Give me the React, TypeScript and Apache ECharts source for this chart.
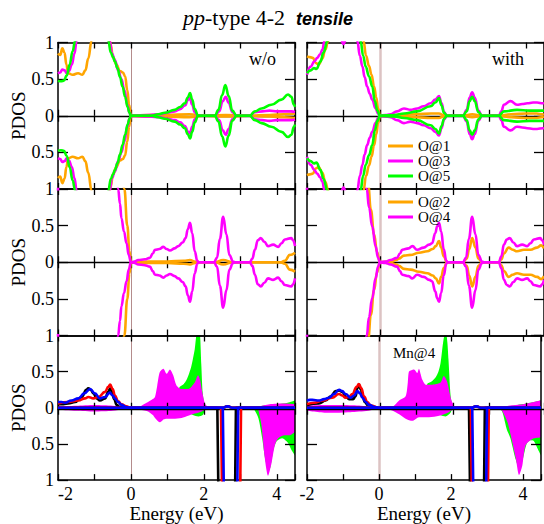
import React, { useEffect, useRef } from "react";
import * as echarts from "echarts";

type Pt = [number, number];

// ---------- style constants ----------
const ORANGE = "#ffa500";
const MAGENTA = "#ff00ff";
const GREEN = "#00ff00";
const RED = "#ff0000";
const BLUE = "#0000ff";
const BLACK = "#000000";
const SERIF = '"Liberation Serif", "DejaVu Serif", serif';
const SANS = '"Liberation Sans", Arial, sans-serif';

// ---------- title pieces ----------
const titleParts = [
  { text: "pp", font: `italic 22px ${SERIF}`, dy: 0 },
  { text: "-type 4-2  ", font: `22px ${SERIF}`, dy: 0 },
  { text: "tensile", font: `italic bold 18px ${SANS}`, dy: 1.5 },
];

// ---------- axes ----------
const energyMin = -2;
const energyMax = 4.5;
const energyLabels = [-2, 0, 2, 4];
const pdosMin = -1;
const pdosMax = 1;

// ---------- top row: O@1 / O@3 / O@5 (spin-up; spin-down is its mirror) ----------
const o1Wo: Pt[] = [[-2,0.85],[-1.94,0.83],[-1.88,0.92],[-1.82,0.86],[-1.77,0.7],[-1.72,0.58],[-1.6,0.56],[-1.45,0.58],[-1.33,0.56],[-1.25,0.62],[-1.17,0.78],[-1.08,1.02],[-1.0,1.3],[-0.8,1.6],[-0.62,1.2],[-0.56,0.98],[-0.49,0.8],[-0.4,0.7],[-0.3,0.61],[-0.22,0.59],[-0.16,0.54],[-0.1,0.35],[-0.05,0.15],[0,0],[0.5,0.01],[1.0,0.01],[1.6,0.02],[2.0,0],[2.6,0.01],[3.2,0],[3.8,0.01],[4.2,0.02],[4.5,0.03]];
const o3Wo: Pt[] = [[-2,0.58],[-1.94,0.59],[-1.88,0.63],[-1.82,0.62],[-1.76,0.58],[-1.7,0.61],[-1.62,0.7],[-1.55,0.85],[-1.49,1.02],[-1.4,1.3],[-1.0,1.8],[-0.7,1.4],[-0.58,1.02],[-0.52,0.85],[-0.44,0.76],[-0.35,0.62],[-0.26,0.5],[-0.18,0.35],[-0.1,0.15],[-0.04,0.04],[0,0],[0.5,0.01],[0.8,0.02],[1.0,0.04],[1.2,0.06],[1.35,0.09],[1.48,0.14],[1.57,0.22],[1.62,0.24],[1.68,0.15],[1.75,0.05],[1.84,0],[2.3,0],[2.42,0.06],[2.52,0.2],[2.6,0.26],[2.68,0.18],[2.78,0.05],[2.9,0],[3.26,0],[3.4,0.05],[3.6,0.06],[3.8,0.07],[4.0,0.06],[4.2,0.06],[4.4,0.06],[4.5,0.05]];
const o5Wo: Pt[] = [[-2,0.48],[-1.92,0.47],[-1.84,0.48],[-1.76,0.55],[-1.68,0.7],[-1.6,0.88],[-1.53,1.02],[-1.4,1.4],[-1.0,1.8],[-0.7,1.3],[-0.62,1.02],[-0.55,0.86],[-0.49,0.8],[-0.44,0.74],[-0.37,0.65],[-0.3,0.53],[-0.23,0.4],[-0.16,0.26],[-0.09,0.12],[-0.04,0.04],[0,0],[0.57,0],[0.75,0.02],[0.93,0.04],[1.2,0.08],[1.35,0.12],[1.48,0.17],[1.56,0.25],[1.62,0.31],[1.68,0.22],[1.75,0.09],[1.84,0],[2.3,0],[2.4,0.08],[2.5,0.28],[2.59,0.42],[2.68,0.27],[2.78,0.07],[2.9,0],[3.26,0],[3.4,0.06],[3.58,0.1],[3.85,0.15],[4.13,0.22],[4.31,0.29],[4.4,0.26],[4.47,0.15],[4.5,0.12]];

const o1With: Pt[] = [[-2,0.81],[-1.92,0.8],[-1.84,0.79],[-1.76,0.72],[-1.68,0.7],[-1.58,0.78],[-1.5,0.9],[-1.42,1.02],[-1.3,1.4],[-1.0,1.8],[-0.6,1.6],[-0.45,1.02],[-0.38,0.82],[-0.3,0.68],[-0.23,0.56],[-0.16,0.4],[-0.1,0.25],[-0.05,0.1],[0,0],[0.5,0.01],[1.0,0.02],[1.4,0.03],[1.62,0.03],[1.75,0.01],[1.84,0],[2.3,0],[2.53,0.02],[2.8,0],[3.26,0],[3.6,0.02],[4.0,0.03],[4.3,0.03],[4.45,0.02],[4.5,0.01]];
const o3With: Pt[] = [[-2,0.56],[-1.9,0.67],[-1.8,0.74],[-1.72,0.79],[-1.64,0.84],[-1.58,0.9],[-1.52,1.02],[-1.4,1.3],[-1.1,1.1],[-1.0,0.98],[-0.9,1.1],[-0.75,1.5],[-0.62,1.02],[-0.55,0.82],[-0.48,0.67],[-0.42,0.53],[-0.35,0.4],[-0.28,0.3],[-0.21,0.22],[-0.12,0.1],[-0.05,0.03],[0,0],[0.15,0.01],[0.29,0.02],[0.47,0.06],[0.66,0.1],[0.84,0.08],[1.02,0.1],[1.2,0.13],[1.39,0.17],[1.52,0.22],[1.62,0.27],[1.69,0.17],[1.76,0.05],[1.84,0],[2.28,0],[2.38,0.08],[2.46,0.25],[2.53,0.32],[2.6,0.25],[2.7,0.07],[2.8,0],[3.26,0],[3.33,0.06],[3.4,0.15],[3.58,0.2],[3.76,0.15],[3.9,0.16],[4.04,0.17],[4.2,0.18],[4.31,0.18],[4.47,0.17],[4.5,0.16]];
const o5With: Pt[] = [[-2,0.58],[-1.9,0.62],[-1.81,0.65],[-1.74,0.64],[-1.63,0.74],[-1.55,0.86],[-1.44,1.02],[-1.3,1.4],[-1.0,1.8],[-0.7,1.5],[-0.53,1.02],[-0.46,0.82],[-0.39,0.67],[-0.3,0.54],[-0.21,0.4],[-0.14,0.2],[-0.07,0.07],[0,0],[0.4,0.01],[0.66,0.03],[1.02,0.06],[1.39,0.13],[1.52,0.18],[1.62,0.24],[1.69,0.14],[1.76,0.04],[1.84,0],[2.28,0],[2.38,0.06],[2.46,0.2],[2.53,0.26],[2.6,0.2],[2.7,0.05],[2.8,0],[3.26,0],[3.4,0.06],[3.76,0.08],[4.1,0.07],[4.47,0.07],[4.5,0.07]];

// ---------- middle row: O@2 / O@4 (spin-up; spin-down is its mirror) ----------
const o2Wo: Pt[] = [[-2,1.6],[-1,1.8],[-0.3,1.6],[-0.18,1.0],[-0.1,0.5],[-0.04,0.15],[0,0],[0.5,0.01],[1.0,0.01],[1.45,0.02],[1.62,0.03],[1.76,0.01],[1.84,0],[2.3,0],[2.53,0.03],[2.8,0],[3.3,0],[4.1,0],[4.22,0.02],[4.36,0.1],[4.5,0.13]];
const o4Wo: Pt[] = [[-2,0.98],[-1.96,1.3],[-1.5,1.8],[-0.6,1.8],[-0.42,1.25],[-0.35,1.0],[-0.3,0.8],[-0.26,0.6],[-0.19,0.42],[-0.12,0.26],[-0.06,0.1],[0,0],[0.1,0.01],[0.2,0.03],[0.38,0.04],[0.52,0.06],[0.6,0.12],[0.66,0.17],[0.78,0.18],[0.89,0.21],[0.98,0.18],[1.07,0.16],[1.2,0.19],[1.3,0.22],[1.42,0.27],[1.5,0.33],[1.56,0.45],[1.62,0.54],[1.68,0.4],[1.75,0.15],[1.82,0.02],[1.86,0],[2.28,0],[2.36,0.06],[2.44,0.32],[2.53,0.62],[2.62,0.38],[2.7,0.1],[2.8,0.01],[2.86,0],[3.26,0],[3.33,0.05],[3.4,0.17],[3.48,0.3],[3.56,0.33],[3.66,0.28],[3.76,0.22],[3.9,0.24],[4.04,0.21],[4.13,0.26],[4.22,0.31],[4.4,0.33],[4.45,0.3],[4.5,0.22]];
const o2With: Pt[] = [[-2,1.6],[-1,1.8],[-0.45,1.6],[-0.32,1.05],[-0.25,0.72],[-0.16,0.38],[-0.08,0.14],[0,0],[0.29,0.01],[0.45,0.03],[0.52,0.05],[0.66,0.09],[0.84,0.1],[1.07,0.13],[1.3,0.15],[1.45,0.18],[1.53,0.22],[1.62,0.29],[1.68,0.2],[1.75,0.08],[1.84,0],[2.28,0],[2.38,0.05],[2.45,0.18],[2.53,0.33],[2.62,0.2],[2.7,0.05],[2.8,0],[3.26,0],[3.33,0.04],[3.4,0.12],[3.53,0.2],[3.64,0.17],[3.76,0.15],[3.95,0.17],[4.13,0.17],[4.31,0.2],[4.42,0.23],[4.5,0.19]];
const o4With: Pt[] = [[-2,0.99],[-1.96,1.3],[-1.5,1.8],[-0.6,1.8],[-0.45,1.3],[-0.36,1.0],[-0.3,0.75],[-0.21,0.49],[-0.12,0.22],[-0.05,0.06],[0,0],[0.15,0.01],[0.29,0.03],[0.47,0.06],[0.55,0.12],[0.61,0.17],[0.79,0.19],[0.89,0.22],[1.02,0.17],[1.2,0.2],[1.35,0.24],[1.43,0.26],[1.52,0.4],[1.57,0.49],[1.62,0.54],[1.68,0.42],[1.75,0.18],[1.82,0.02],[1.86,0],[2.28,0],[2.36,0.06],[2.44,0.32],[2.53,0.62],[2.62,0.38],[2.7,0.1],[2.8,0.01],[2.86,0],[3.26,0],[3.33,0.08],[3.4,0.24],[3.48,0.31],[3.56,0.33],[3.66,0.27],[3.76,0.22],[3.9,0.24],[4.04,0.22],[4.13,0.26],[4.22,0.31],[4.4,0.33],[4.45,0.3],[4.5,0.24]];

// ---------- bottom row: Mn@4 d-states (lines) and summed PDOS (fills) ----------
const blackUpWo: Pt[] = [[-2,0.05],[-1.85,0.05],[-1.72,0.06],[-1.53,0.08],[-1.35,0.15],[-1.22,0.25],[-1.17,0.27],[-1.1,0.25],[-1.03,0.2],[-0.94,0.13],[-0.85,0.1],[-0.71,0.13],[-0.62,0.22],[-0.57,0.27],[-0.52,0.22],[-0.46,0.12],[-0.39,0.04],[-0.3,0.01],[0,0],[2.5,0],[2.65,0.02],[2.8,0],[4.5,0]];
const redUpWo: Pt[] = [[-2,0.06],[-1.72,0.08],[-1.44,0.1],[-1.26,0.13],[-1.17,0.15],[-1.03,0.13],[-0.89,0.15],[-0.71,0.22],[-0.62,0.29],[-0.57,0.32],[-0.5,0.26],[-0.44,0.17],[-0.35,0.09],[-0.26,0.05],[-0.13,0.02],[0,0],[2.5,0],[2.65,0.02],[2.8,0],[4.5,0]];
const blueUpWo: Pt[] = [[-2,0.08],[-1.9,0.08],[-1.81,0.07],[-1.63,0.1],[-1.44,0.13],[-1.28,0.2],[-1.12,0.26],[-0.99,0.2],[-0.85,0.13],[-0.71,0.15],[-0.58,0.21],[-0.5,0.17],[-0.44,0.13],[-0.35,0.08],[-0.26,0.04],[-0.13,0.01],[0,0],[2.5,0],[2.65,0.02],[2.8,0],[4.5,0]];
const blackDnWo: Pt[] = [[-2,0],[2.37,0],[2.42,-2],[2.84,-2],[2.88,0],[4.5,0]];
const redDnWo: Pt[] = [[-2,0],[2.47,0],[2.52,-2],[2.98,-2],[3.02,0],[4.5,0]];
const blueDnWo: Pt[] = [[-2,0],[2.52,0],[2.57,-2],[2.9,-2],[2.94,0],[4.5,0]];
const magUpWo: Pt[] = [[-2,0.02],[-1.5,0.03],[-1.0,0.04],[-0.5,0.03],[-0.2,0.01],[0,0],[0.2,0.01],[0.29,0.03],[0.47,0.08],[0.6,0.12],[0.66,0.15],[0.72,0.3],[0.79,0.49],[0.89,0.54],[0.98,0.47],[1.07,0.53],[1.16,0.45],[1.25,0.31],[1.39,0.26],[1.57,0.26],[1.75,0.35],[1.84,0.45],[1.9,0.38],[1.94,0.26],[2.03,0.06],[2.12,0.01],[2.2,0],[3.3,0],[3.5,0.02],[3.8,0.05],[4.2,0.06],[4.5,0.05]];
const greenUpWo: Pt[] = [[-2,0.01],[0,0],[1.0,0.02],[1.2,0.05],[1.28,0.2],[1.34,0.29],[1.45,0.33],[1.52,0.38],[1.6,0.48],[1.66,0.58],[1.75,0.81],[1.82,1.05],[1.88,1.05],[1.93,0.6],[1.97,0.2],[2.03,0.03],[2.1,0],[3.4,0],[3.6,0.03],[4.0,0.05],[4.3,0.07],[4.5,0.1]];
const magDnWo: Pt[] = [[-2,-0.03],[-1.5,-0.04],[-1.0,-0.05],[-0.5,-0.04],[-0.2,-0.02],[0,-0.01],[0.2,-0.02],[0.47,-0.05],[0.6,-0.1],[0.66,-0.14],[0.75,-0.19],[0.8,-0.2],[0.9,-0.16],[0.98,-0.15],[1.16,-0.15],[1.39,-0.14],[1.57,-0.11],[1.75,-0.08],[1.94,-0.05],[2.1,-0.01],[2.2,0],[3.45,0],[3.5,-0.04],[3.58,-0.24],[3.67,-0.69],[3.76,-0.94],[3.85,-0.78],[3.95,-0.51],[4.04,-0.42],[4.22,-0.38],[4.35,-0.38],[4.5,-0.33]];
const greenDnWo: Pt[] = [[-2,-0.01],[0,0],[1.5,-0.05],[1.7,-0.1],[1.85,-0.12],[1.97,-0.1],[2.05,-0.01],[2.15,0],[3.3,0],[3.4,-0.04],[3.5,-0.15],[3.6,-0.42],[3.7,-0.75],[3.8,-0.85],[3.9,-0.6],[4.0,-0.46],[4.15,-0.42],[4.3,-0.48],[4.4,-0.58],[4.5,-0.66]];

const blackUpWith: Pt[] = [[-2,0.04],[-1.67,0.06],[-1.48,0.1],[-1.34,0.16],[-1.2,0.23],[-1.1,0.24],[-1.02,0.22],[-0.92,0.15],[-0.83,0.12],[-0.72,0.12],[-0.65,0.16],[-0.6,0.27],[-0.56,0.32],[-0.5,0.25],[-0.46,0.16],[-0.39,0.08],[-0.32,0.04],[-0.14,0.01],[0,0],[2.55,0],[2.7,0.02],[2.85,0],[4.5,0]];
const redUpWith: Pt[] = [[-2,0.05],[-1.8,0.07],[-1.57,0.1],[-1.3,0.14],[-1.11,0.19],[-1.02,0.17],[-0.93,0.14],[-0.83,0.15],[-0.74,0.19],[-0.62,0.29],[-0.56,0.33],[-0.49,0.27],[-0.42,0.16],[-0.32,0.08],[-0.23,0.03],[0,0],[2.55,0],[2.7,0.02],[2.85,0],[4.5,0]];
const blueUpWith: Pt[] = [[-2,0.1],[-1.92,0.11],[-1.85,0.11],[-1.67,0.1],[-1.52,0.12],[-1.39,0.14],[-1.25,0.19],[-1.11,0.25],[-1.02,0.23],[-0.93,0.19],[-0.79,0.14],[-0.69,0.17],[-0.6,0.23],[-0.53,0.2],[-0.46,0.14],[-0.37,0.08],[-0.28,0.04],[-0.1,0.01],[0,0],[2.55,0],[2.7,0.02],[2.85,0],[4.5,0]];
const blackDnWith: Pt[] = [[-2,0],[2.5,0],[2.55,-2],[2.9,-2],[2.94,0],[4.5,0]];
const redDnWith: Pt[] = [[-2,0],[2.55,0],[2.6,-2],[3.01,-2],[3.05,0],[4.5,0]];
const blueDnWith: Pt[] = [[-2,0],[2.59,0],[2.64,-2],[2.96,-2],[3.0,0],[4.5,0]];
const magUpWith: Pt[] = [[-2,0.03],[-1.5,0.04],[-1.0,0.04],[-0.5,0.03],[-0.2,0.01],[0,0],[0.2,0],[0.37,0.01],[0.56,0.1],[0.74,0.16],[0.8,0.35],[0.83,0.5],[0.9,0.52],[0.97,0.53],[1.03,0.5],[1.06,0.48],[1.11,0.54],[1.16,0.46],[1.2,0.39],[1.3,0.32],[1.48,0.32],[1.71,0.35],[1.8,0.44],[1.86,0.4],[1.9,0.35],[2.0,0.12],[2.04,0.07],[2.13,0],[3.3,0],[3.6,0.03],[4.0,0.05],[4.3,0.08],[4.5,0.1]];
const greenUpWith: Pt[] = [[-2,0.01],[0,0],[1.2,0.02],[1.3,0.1],[1.34,0.33],[1.45,0.36],[1.57,0.42],[1.65,0.5],[1.71,0.62],[1.78,0.9],[1.85,1.08],[1.9,0.9],[1.93,0.67],[1.99,0.16],[2.05,0.02],[2.12,0],[3.4,0],[3.7,0.03],[4.1,0.06],[4.5,0.1]];
const magDnWith: Pt[] = [[-2,-0.04],[-1.4,-0.07],[-0.8,-0.06],[-0.3,-0.04],[0,-0.01],[0.28,-0.02],[0.56,-0.09],[0.74,-0.15],[0.93,-0.18],[1.11,-0.13],[1.39,-0.13],[1.67,-0.11],[1.94,-0.06],[2.08,-0.01],[2.2,0],[3.35,0],[3.43,-0.05],[3.57,-0.2],[3.66,-0.38],[3.8,-0.7],[3.89,-0.93],[3.98,-0.8],[4.07,-0.52],[4.26,-0.43],[4.5,-0.41]];
const greenDnWith: Pt[] = [[-2,-0.01],[0,0],[1.5,-0.05],[1.7,-0.1],[1.85,-0.12],[1.97,-0.08],[2.05,-0.01],[2.15,0],[3.3,0],[3.42,-0.05],[3.5,-0.2],[3.55,-0.3],[3.65,-0.42],[3.8,-0.72],[3.9,-0.85],[4.0,-0.7],[4.1,-0.5],[4.2,-0.45],[4.3,-0.46],[4.4,-0.56],[4.5,-0.66]];

// ---------- panel description ----------
type Curve = { name?: string; color: string; up: Pt[]; down?: Pt[]; fill?: boolean; stepDown?: boolean };
type Panel = { row: number; col: number; curves: Curve[] };

const mirror = (d: Pt[]): Pt[] => d.map(([e, v]) => [e, -v] as Pt);

const panels: Panel[] = [
  { row: 0, col: 0, curves: [
    { name: "O@1", color: ORANGE, up: o1Wo },
    { name: "O@3", color: MAGENTA, up: o3Wo },
    { name: "O@5", color: GREEN, up: o5Wo },
  ] },
  { row: 0, col: 1, curves: [
    { name: "O@1", color: ORANGE, up: o1With },
    { name: "O@3", color: MAGENTA, up: o3With },
    { name: "O@5", color: GREEN, up: o5With },
  ] },
  { row: 1, col: 0, curves: [
    { name: "O@2", color: ORANGE, up: o2Wo },
    { name: "O@4", color: MAGENTA, up: o4Wo },
  ] },
  { row: 1, col: 1, curves: [
    { name: "O@2", color: ORANGE, up: o2With },
    { name: "O@4", color: MAGENTA, up: o4With },
  ] },
  { row: 2, col: 0, curves: [
    { color: GREEN, up: greenUpWo, down: greenDnWo, fill: true },
    { color: MAGENTA, up: magUpWo, down: magDnWo, fill: true },
    { color: BLACK, up: blackUpWo, down: blackDnWo, stepDown: true },
    { color: RED, up: redUpWo, down: redDnWo, stepDown: true },
    { color: BLUE, up: blueUpWo, down: blueDnWo, stepDown: true },
  ] },
  { row: 2, col: 1, curves: [
    { color: GREEN, up: greenUpWith, down: greenDnWith, fill: true },
    { color: MAGENTA, up: magUpWith, down: magDnWith, fill: true },
    { color: BLACK, up: blackUpWith, down: blackDnWith, stepDown: true },
    { color: RED, up: redUpWith, down: redDnWith, stepDown: true },
    { color: BLUE, up: blueUpWith, down: blueDnWith, stepDown: true },
  ] },
];

// ---------- layout ----------
const colLeft = [58, 307];
const panelWidth = 237;
const rowTop = [42.5, 189, 335.5];
const panelHeight = 146.5;
const titleLeft = 183;
const titleMiddle = 17.5;

function measure(text: string, font: string): number {
  const ctx = document.createElement("canvas").getContext("2d");
  if (!ctx) return text.length * 10;
  ctx.font = font;
  return ctx.measureText(text).width;
}

function buildOption() {
  const grid: any[] = [];
  const xAxis: any[] = [];
  const yAxis: any[] = [];
  const series: any[] = [];
  const frame = { color: "#000", width: 1.5 };
  const tickStyle = { color: "#000", width: 1.3 };
  const labelFont = { color: "#000", fontFamily: SERIF, fontSize: 18 };

  panels.forEach((p) => {
    const left = colLeft[p.col];
    const top = rowTop[p.row];
    const g0 = grid.length;
    for (let k = 0; k < 3; k++) grid.push({ left, top, width: panelWidth, height: panelHeight, show: false });

    const xCommon = { type: "value", min: energyMin, max: energyMax, interval: 1, splitLine: { show: false }, z: 1.5 };
    const xMain = xAxis.length;
    xAxis.push({
      ...xCommon, gridIndex: g0, position: "bottom",
      axisLine: { show: true, onZero: false, lineStyle: frame },
      axisTick: { show: true, inside: true, length: 6, lineStyle: tickStyle },
      axisLabel: {
        show: p.row === 2, margin: 5, ...labelFont,
        alignMinLabel: p.col === 0 ? "left" : "center",
        formatter: (v: number) => (energyLabels.indexOf(v) >= 0 ? String(v) : ""),
      },
      name: p.row === 2 ? "Energy (eV)" : "", nameLocation: "middle", nameGap: 22,
      nameTextStyle: { color: "#000", fontFamily: SERIF, fontSize: 19 },
    });
    xAxis.push({
      ...xCommon, gridIndex: g0, position: "top",
      axisLine: { show: true, onZero: false, lineStyle: frame },
      axisTick: { show: true, inside: true, length: 6, lineStyle: tickStyle },
      axisLabel: { show: false },
    });
    xAxis.push({
      ...xCommon, gridIndex: g0 + 1, position: "bottom",
      axisLine: { show: true, onZero: true, lineStyle: { color: "#000", width: 1.3 } },
      axisTick: { show: true, inside: true, length: 6, lineStyle: tickStyle },
      axisLabel: { show: false },
    });
    xAxis.push({
      ...xCommon, gridIndex: g0 + 2, position: "top",
      axisLine: { show: false, onZero: true },
      axisTick: { show: true, inside: true, length: 6, lineStyle: tickStyle },
      axisLabel: { show: false },
    });

    const yCommon = { type: "value", min: pdosMin, max: pdosMax, interval: 0.5, splitLine: { show: false }, z: 1.5 };
    const yMain = yAxis.length;
    yAxis.push({
      ...yCommon, gridIndex: g0, position: "left",
      axisLine: { show: true, onZero: false, lineStyle: frame },
      axisTick: { show: true, inside: true, length: 10, lineStyle: tickStyle },
      axisLabel: {
        show: p.col === 0, margin: 4, ...labelFont, showMaxLabel: p.row === 0,
        formatter: (v: number) => String(Math.abs(v)),
      },
      name: p.col === 0 ? "PDOS" : "", nameLocation: "middle", nameGap: 30, nameRotate: 90,
      nameTextStyle: { color: "#000", fontFamily: SERIF, fontSize: 19 },
    });
    yAxis.push({
      ...yCommon, gridIndex: g0, position: "right",
      axisLine: { show: true, onZero: false, lineStyle: frame },
      axisTick: { show: true, inside: true, length: 10, lineStyle: tickStyle },
      axisLabel: { show: false },
    });
    yAxis.push({ ...yCommon, gridIndex: g0 + 1, show: false });
    yAxis.push({ ...yCommon, gridIndex: g0 + 2, show: false });

    p.curves.forEach((c, ci) => {
      const downData = c.down ?? mirror(c.up);
      [c.up, downData].forEach((data, si) => {
        const s: any = {
          type: "line", name: c.name, xAxisIndex: xMain, yAxisIndex: yMain, data,
          symbol: "none", silent: true, clip: true,
          itemStyle: { color: c.color },
        };
        if (c.fill) {
          s.smooth = 0.25;
          s.lineStyle = { width: 0, color: c.color };
          s.areaStyle = { color: c.color, opacity: 1 };
          s.z = 1;
        } else {
          s.smooth = c.stepDown && si === 1 ? false : 0.45;
          s.smoothMonotone = "x";
          s.lineStyle = { width: 2.6, color: c.color };
          s.z = 2;
        }
        if (ci === 0 && si === 0) {
          s.markLine = {
            silent: true, symbol: "none", z: 0.8, animation: false,
            label: { show: false },
            lineStyle: { type: "solid", color: p.col === 0 ? "#b48c8c" : "#dcc3c3", width: p.col === 0 ? 1 : 2.5 },
            data: [{ xAxis: 0 }],
          };
        }
        series.push(s);
      });
    });
  });

  const legendCommon = {
    orient: "vertical", left: 388, padding: 0, itemGap: 0, itemWidth: 25, itemHeight: 3,
    icon: "rect", selectedMode: false,
    textStyle: { color: "#000", fontFamily: SERIF, fontSize: 15, lineHeight: 15 },
  };

  // title as three text pieces laid side by side
  const titleGraphics: any[] = [];
  let tx = titleLeft;
  titleParts.forEach((t) => {
    titleGraphics.push({
      type: "text", x: tx, y: titleMiddle + t.dy,
      style: { text: t.text, font: t.font, fill: "#000", align: "left", verticalAlign: "middle" },
    });
    tx += measure(t.text, t.font);
  });

  return {
    animation: false,
    backgroundColor: "#fff",
    legend: [
      { ...legendCommon, top: 138.5, data: ["O@1", "O@3", "O@5"] },
      { ...legendCommon, top: 194.5, data: ["O@2", "O@4"] },
    ],
    graphic: [
      ...titleGraphics,
      { type: "text", x: 249, y: 59, style: { text: "w/o", font: `18px ${SERIF}`, fill: "#000", align: "left", verticalAlign: "middle" } },
      { type: "text", x: 492, y: 59, style: { text: "with", font: `18px ${SERIF}`, fill: "#000", align: "left", verticalAlign: "middle" } },
      { type: "text", x: 393, y: 353, style: { text: "Mn@4", font: `15px ${SERIF}`, fill: "#000", align: "left", verticalAlign: "middle" } },
    ],
    grid, xAxis, yAxis, series,
  };
}

export default function App() {
  const ref = useRef<HTMLDivElement>(null);
  useEffect(() => {
    if (!ref.current) return;
    const chart = echarts.init(ref.current, undefined, { renderer: "svg" });
    chart.setOption(buildOption() as any);
    return () => chart.dispose();
  }, []);
  return (
    <div
      ref={ref}
      style={{ position: "fixed", left: 0, top: 0, width: 544, height: 524, background: "#fff" }}
    />
  );
}
